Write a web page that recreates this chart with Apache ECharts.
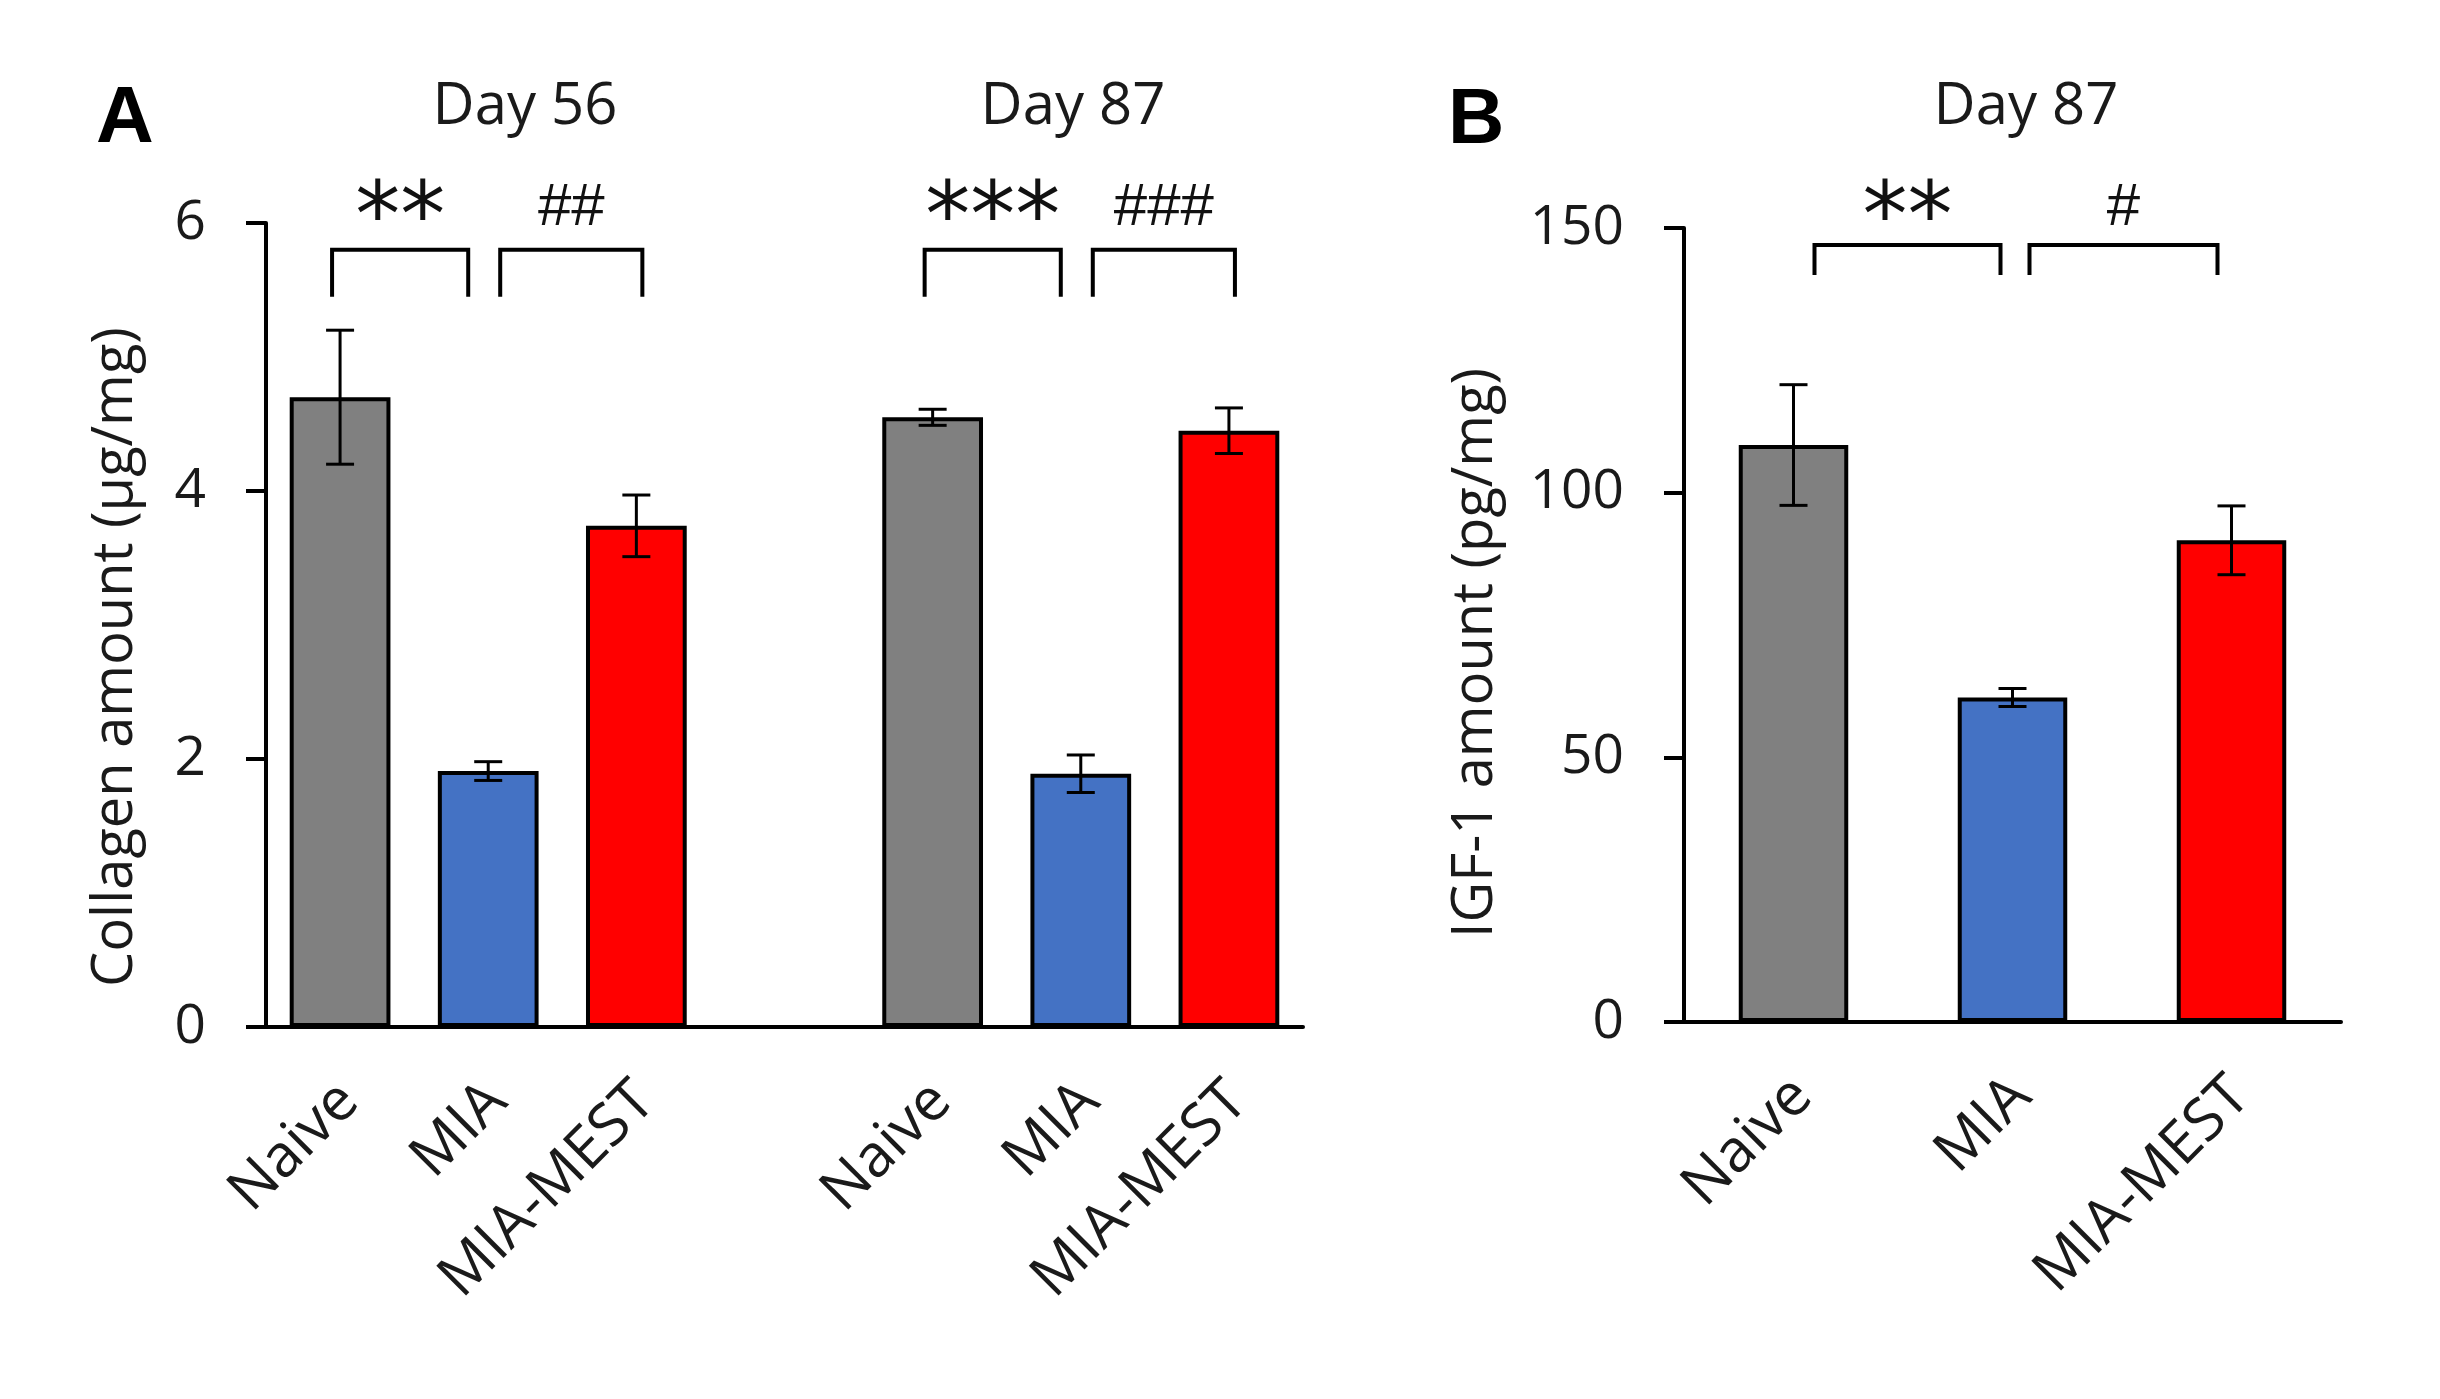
<!DOCTYPE html>
<html>
<head>
<meta charset="utf-8">
<script src="https://cdn.jsdelivr.net/npm/echarts@6/dist/echarts.min.js"></script>
<style>
html,body{margin:0;padding:0;background:#fff;}
#chart{width:2440px;height:1399px;}
</style>
</head>
<body>
<div id="chart"></div>
<script>
// ---------- data ----------
const groupLabels = ['Naive', 'MIA', 'MIA-MEST'];
const collagenDay56 = [4.70, 1.91, 3.74];
const collagenDay56Sem = [0.50, 0.07, 0.23];
const collagenDay87 = [4.55, 1.89, 4.45];
const collagenDay87Sem = [0.06, 0.14, 0.17];
const igf1Day87 = [109.0, 61.3, 91.0];
const igf1Day87Sem = [11.4, 1.7, 6.5];
const collagenTicks = [0, 2, 4, 6];
const igf1Ticks = [0, 50, 100, 150];
const panelTitlesA = ['Day 56', 'Day 87'];
const panelTitleB = 'Day 87';
// significance: [from category index, to category index, mark]
const sigCollagen = [[0, 1, '**'], [1, 2, '##'], [4, 5, '***'], [5, 6, '###']];
const sigIgf1 = [[0, 1, '**'], [1, 2, '#']];

// ---------- derived ----------
const colors = ['#808080', '#4472C4', '#FF0000'];
const catsA = [...groupLabels, '', ...groupLabels];
const valsA = [...collagenDay56, null, ...collagenDay87];
const semA = [...collagenDay56Sem, null, ...collagenDay87Sem];
const FONT = '"Open Sans", "Noto Sans", sans-serif';
const TXT = '#1a1a1a';

function barData(vals) {
  return vals.map((v, i) => v == null ? null : {
    value: v,
    itemStyle: { color: colors[i % 4] }
  });
}
function barDataB(vals) {
  return vals.map((v, i) => ({ value: v, itemStyle: { color: colors[i] } }));
}
function errData(vals, sems) {
  const out = [];
  vals.forEach((v, i) => { if (v != null) out.push([i, v, sems[i]]); });
  return out;
}
function errorRender(params, api) {
  const x = api.value(0), v = api.value(1), e = api.value(2);
  const t = api.coord([x, v + e]);
  const b = api.coord([x, v - e]);
  const hw = 14;
  const st = { stroke: '#000', lineWidth: 3 };
  return {
    type: 'group',
    children: [
      { type: 'line', shape: { x1: t[0], y1: t[1], x2: b[0], y2: b[1] }, style: st },
      { type: 'line', shape: { x1: t[0] - hw, y1: t[1], x2: t[0] + hw, y2: t[1] }, style: st },
      { type: 'line', shape: { x1: b[0] - hw, y1: b[1], x2: b[0] + hw, y2: b[1] }, style: st }
    ]
  };
}
function bracketRenderer(sig, topVal, botVal, offs, isLeft) {
  return function (params, api) {
    const s = sig[params.dataIndex];
    const left = isLeft(s[0]);
    const o = left ? offs.left : offs.right;
    const p1 = api.coord([s[0], topVal]);
    const p2 = api.coord([s[1], topVal]);
    const pb = api.coord([s[0], botVal]);
    const x1 = p1[0] + o[0], x2 = p2[0] + o[1];
    const yt = p1[1], yb = pb[1];
    const star = s[2].indexOf('*') >= 0;
    return {
      type: 'group',
      children: [
        { type: 'polyline', shape: { points: [[x1, yb], [x1, yt], [x2, yt], [x2, yb]] },
          style: { stroke: '#000', lineWidth: 4, fill: null } },
        { type: 'text', x: (x1 + x2) / 2, y: yt - (star ? offs.starGap : offs.hashGap),
          style: { text: s[2], textAlign: 'center', textVerticalAlign: 'middle',
            font: star ? '90px "DejaVu Sans", sans-serif' : '60px "Liberation Sans", Arial, sans-serif',
            fill: '#111' } }
      ]
    };
  };
}

const chart = echarts.init(document.getElementById('chart'), null, { renderer: 'canvas' });

const yAxisCommon = {
  type: 'value',
  axisLine: { show: true, lineStyle: { color: '#000', width: 4 } },
  axisTick: { show: true, length: 20, lineStyle: { color: '#000', width: 4 } },
  splitLine: { show: false },
  axisLabel: { fontSize: 55, fontFamily: FONT, color: TXT, margin: 60 }
};
const xAxisCommon = {
  type: 'category',
  axisLine: { show: true, lineStyle: { color: '#000', width: 4 } },
  axisTick: { show: false },
  axisLabel: { interval: 0, rotate: 45, fontSize: 59, fontFamily: FONT, color: TXT,
    margin: 56, verticalAlign: 'middle',
    formatter: v => v ? '{l|' + v + '}' : '',
    rich: { l: { fontSize: 59, fontFamily: FONT, color: TXT, padding: [26, 0, 0, 0] } } }
};

const option = {
  backgroundColor: '#fff',
  animation: false,
  grid: [
    { left: 266, top: 223, width: 1037, height: 804 },
    { left: 1684, top: 228, width: 657, height: 794 }
  ],
  xAxis: [
    Object.assign({}, xAxisCommon, { gridIndex: 0, data: catsA }),
    Object.assign({}, xAxisCommon, { gridIndex: 1, data: groupLabels })
  ],
  yAxis: [
    Object.assign({}, yAxisCommon, { gridIndex: 0, min: collagenTicks[0],
      max: collagenTicks[collagenTicks.length - 1], interval: collagenTicks[1] - collagenTicks[0] }),
    Object.assign({}, yAxisCommon, { gridIndex: 1, min: igf1Ticks[0],
      max: igf1Ticks[igf1Ticks.length - 1], interval: igf1Ticks[1] - igf1Ticks[0] })
  ],
  series: [
    { type: 'bar', xAxisIndex: 0, yAxisIndex: 0, data: barData(valsA), barWidth: '68%',
      itemStyle: { borderColor: '#000', borderWidth: 4 }, z: 2 },
    { type: 'custom', xAxisIndex: 0, yAxisIndex: 0, data: errData(valsA, semA),
      renderItem: errorRender, z: 3 },
    { type: 'custom', xAxisIndex: 0, yAxisIndex: 0, clip: false,
      data: sigCollagen.map(s => [s[0], s[1]]),
      renderItem: bracketRenderer(sigCollagen, 5.80, 5.45,
        { left: [-8, -20], right: [12, 6], starGap: 27, hashGap: 41 }, i => i % 4 === 0), z: 3 },
    { type: 'bar', xAxisIndex: 1, yAxisIndex: 1, data: barDataB(igf1Day87), barWidth: '50%',
      itemStyle: { borderColor: '#000', borderWidth: 4 }, z: 2 },
    { type: 'custom', xAxisIndex: 1, yAxisIndex: 1, data: errData(igf1Day87, igf1Day87Sem),
      renderItem: errorRender, z: 3 },
    { type: 'custom', xAxisIndex: 1, yAxisIndex: 1, clip: false,
      data: sigIgf1.map(s => [s[0], s[1]]),
      renderItem: bracketRenderer(sigIgf1, 146.8, 141.1,
        { left: [21, -12], right: [17, -14], starGap: 22, hashGap: 36 }, i => i === 0), z: 3 }
  ],
  graphic: [
    { type: 'text', left: 96, top: 80, style: { text: 'A', font: 'bold 80px "Liberation Sans", Arial, sans-serif', fill: '#000' } },
    { type: 'text', left: 1448, top: 82, style: { text: 'B', font: 'bold 78px "Liberation Sans", Arial, sans-serif', fill: '#000' } },
    { type: 'text', x: 525, y: 107, style: { text: panelTitlesA[0], font: '58px ' + FONT, fill: TXT, textAlign: 'center', textVerticalAlign: 'middle' } },
    { type: 'text', x: 1073, y: 107, style: { text: panelTitlesA[1], font: '58px ' + FONT, fill: TXT, textAlign: 'center', textVerticalAlign: 'middle' } },
    { type: 'text', x: 2026, y: 107, style: { text: panelTitleB, font: '58px ' + FONT, fill: TXT, textAlign: 'center', textVerticalAlign: 'middle' } },
    { type: 'text', x: 116, y: 657, rotation: Math.PI / 2, style: { text: 'Collagen amount (μg/mg)', font: '56px ' + FONT, fill: TXT, textAlign: 'center', textVerticalAlign: 'middle' } },
    { type: 'text', x: 1476, y: 653, rotation: Math.PI / 2, style: { text: 'IGF-1 amount (pg/mg)', font: '56px ' + FONT, fill: TXT, textAlign: 'center', textVerticalAlign: 'middle' } }
  ]
};
chart.setOption(option);
</script>
</body>
</html>
